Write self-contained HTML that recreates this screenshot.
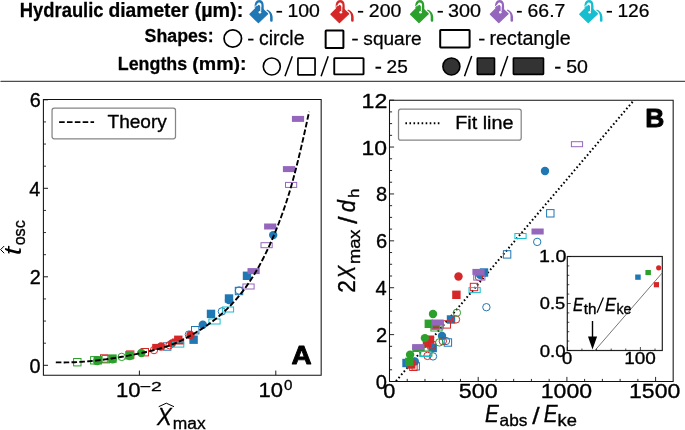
<!DOCTYPE html>
<html><head><meta charset="utf-8"><style>
html,body{margin:0;padding:0;background:#fff;}
svg{display:block;font-family:"Liberation Sans",sans-serif;}
svg{will-change:transform}
</style></head><body>
<svg width="685" height="430" viewBox="0 0 685 430">
<rect width="685" height="430" fill="#fff"/>
<line x1="1" y1="81.4" x2="685" y2="81.4" stroke="#4d4d4d" stroke-width="1.3" stroke-linecap="round"/>
<rect x="276.5" y="10.9" width="5.60" height="1.7" fill="#000"/>
<rect x="357.9" y="10.9" width="5.30" height="1.7" fill="#000"/>
<rect x="437.6" y="10.9" width="5.30" height="1.7" fill="#000"/>
<rect x="516.9" y="10.9" width="4.90" height="1.7" fill="#000"/>
<rect x="606.7" y="10.9" width="5.30" height="1.7" fill="#000"/>
<rect x="248.1" y="38.7" width="5.40" height="1.8" fill="#000"/>
<rect x="352.2" y="38.7" width="5.60" height="1.8" fill="#000"/>
<rect x="479.1" y="38.7" width="5.40" height="1.8" fill="#000"/>
<rect x="375.5" y="66.7" width="5.60" height="2.0" fill="#000"/>
<rect x="555.1" y="66.7" width="5.40" height="2.0" fill="#000"/>
<circle cx="232.8" cy="38.5" r="8.72" fill="none" stroke="#000" stroke-width="1.75"/>
<rect x="325.65" y="30.50" width="17.75" height="17.50" rx="0.6" fill="none" stroke="#000" stroke-width="2.0" stroke-linejoin="round"/>
<rect x="440.20" y="29.90" width="29.40" height="17.50" rx="0.6" fill="none" stroke="#000" stroke-width="2.0" stroke-linejoin="round"/>
<circle cx="271.8" cy="66.45" r="8.5" fill="none" stroke="#000" stroke-width="1.6"/>
<rect x="297.95" y="58.05" width="17.10" height="16.80" rx="0.6" fill="none" stroke="#000" stroke-width="1.7" stroke-linejoin="round"/>
<rect x="334.25" y="58.15" width="29.30" height="16.20" rx="0.6" fill="none" stroke="#000" stroke-width="1.9" stroke-linejoin="round"/>
<circle cx="451.4" cy="66.45" r="8.5" fill="#333" stroke="#000" stroke-width="1.6"/>
<rect x="477.30" y="58.00" width="17.20" height="16.40" rx="0.6" fill="#333" stroke="#000" stroke-width="1.6" stroke-linejoin="round"/>
<rect x="513.40" y="58.00" width="30.10" height="16.40" rx="0.6" fill="#333" stroke="#000" stroke-width="1.6" stroke-linejoin="round"/>
<line x1="285.0" y1="76.2" x2="292.3" y2="56.2" stroke="#000" stroke-width="1.5"/>
<line x1="321.1" y1="76.3" x2="328.2" y2="56.2" stroke="#000" stroke-width="1.5"/>
<line x1="464.5" y1="76.3" x2="471.7" y2="56.1" stroke="#000" stroke-width="1.5"/>
<line x1="500.6" y1="76.3" x2="507.8" y2="56.1" stroke="#000" stroke-width="1.5"/>
<defs><g id="bucket"><path d="M8.6 7.8 C8.6 3.2 10.2 1.3 12.1 1.3 C14.0 1.3 15.5 3.0 15.5 6 L15.5 10.5" fill="none" stroke="currentColor" stroke-width="2.4"/><path d="M3.0 14.3 L11.7 5.4 L20.6 13.7 L11.4 22.6 Z" fill="currentColor" stroke="currentColor" stroke-width="1.3" stroke-linejoin="round"/><path d="M6.0 8.3 L11.2 3.8" fill="none" stroke="#fff" stroke-width="0.9"/><path d="M13.75 3.6 L13.75 11.2" fill="none" stroke="#fff" stroke-width="1.0"/><circle cx="12.9" cy="12.2" r="1.3" fill="#fff"/><path d="M19.4 10.4 C21.2 11.2 22.9 13.0 23.1 16.0 L23.1 20.4 A1.3 1.3 0 0 0 25.7 20.4 L25.6 16.5 C25.3 12.8 22.7 10.4 20.0 9.5 Z" fill="currentColor" stroke="#fff" stroke-width="1.3" paint-order="stroke"/></g></defs>
<use href="#bucket" x="247" y="0" style="color:#1f77b4"/>
<use href="#bucket" x="328" y="0" style="color:#d62728"/>
<use href="#bucket" x="407.6" y="0" style="color:#2ca02c"/>
<use href="#bucket" x="487.4" y="0" style="color:#9467bd"/>
<use href="#bucket" x="576.8" y="0" style="color:#17becf"/>
<line x1="43.4" y1="365.30" x2="48.0" y2="365.30" stroke="#000" stroke-width="0.9"/>
<line x1="43.4" y1="276.80" x2="48.0" y2="276.80" stroke="#000" stroke-width="0.9"/>
<line x1="43.4" y1="188.30" x2="48.0" y2="188.30" stroke="#000" stroke-width="0.9"/>
<line x1="43.4" y1="99.80" x2="48.0" y2="99.80" stroke="#000" stroke-width="0.9"/>
<line x1="43.4" y1="343.18" x2="46.0" y2="343.18" stroke="#000" stroke-width="0.8"/>
<line x1="43.4" y1="321.05" x2="46.0" y2="321.05" stroke="#000" stroke-width="0.8"/>
<line x1="43.4" y1="298.93" x2="46.0" y2="298.93" stroke="#000" stroke-width="0.8"/>
<line x1="43.4" y1="254.68" x2="46.0" y2="254.68" stroke="#000" stroke-width="0.8"/>
<line x1="43.4" y1="232.55" x2="46.0" y2="232.55" stroke="#000" stroke-width="0.8"/>
<line x1="43.4" y1="210.43" x2="46.0" y2="210.43" stroke="#000" stroke-width="0.8"/>
<line x1="43.4" y1="166.18" x2="46.0" y2="166.18" stroke="#000" stroke-width="0.8"/>
<line x1="43.4" y1="144.05" x2="46.0" y2="144.05" stroke="#000" stroke-width="0.8"/>
<line x1="43.4" y1="121.93" x2="46.0" y2="121.93" stroke="#000" stroke-width="0.8"/>
<line x1="139.40" y1="375.17" x2="139.40" y2="370.57" stroke="#000" stroke-width="0.9"/>
<line x1="275.80" y1="375.17" x2="275.80" y2="370.57" stroke="#000" stroke-width="0.9"/>
<line x1="389.5" y1="381.50" x2="394.1" y2="381.50" stroke="#000" stroke-width="0.85"/>
<line x1="389.5" y1="369.78" x2="392.1" y2="369.78" stroke="#000" stroke-width="0.85"/>
<line x1="389.5" y1="358.06" x2="392.1" y2="358.06" stroke="#000" stroke-width="0.85"/>
<line x1="389.5" y1="346.33" x2="392.1" y2="346.33" stroke="#000" stroke-width="0.85"/>
<line x1="389.5" y1="334.61" x2="394.1" y2="334.61" stroke="#000" stroke-width="0.85"/>
<line x1="389.5" y1="322.89" x2="392.1" y2="322.89" stroke="#000" stroke-width="0.85"/>
<line x1="389.5" y1="311.17" x2="392.1" y2="311.17" stroke="#000" stroke-width="0.85"/>
<line x1="389.5" y1="299.45" x2="392.1" y2="299.45" stroke="#000" stroke-width="0.85"/>
<line x1="389.5" y1="287.72" x2="394.1" y2="287.72" stroke="#000" stroke-width="0.85"/>
<line x1="389.5" y1="276.00" x2="392.1" y2="276.00" stroke="#000" stroke-width="0.85"/>
<line x1="389.5" y1="264.28" x2="392.1" y2="264.28" stroke="#000" stroke-width="0.85"/>
<line x1="389.5" y1="252.56" x2="392.1" y2="252.56" stroke="#000" stroke-width="0.85"/>
<line x1="389.5" y1="240.84" x2="394.1" y2="240.84" stroke="#000" stroke-width="0.85"/>
<line x1="389.5" y1="229.11" x2="392.1" y2="229.11" stroke="#000" stroke-width="0.85"/>
<line x1="389.5" y1="217.39" x2="392.1" y2="217.39" stroke="#000" stroke-width="0.85"/>
<line x1="389.5" y1="205.67" x2="392.1" y2="205.67" stroke="#000" stroke-width="0.85"/>
<line x1="389.5" y1="193.95" x2="394.1" y2="193.95" stroke="#000" stroke-width="0.85"/>
<line x1="389.5" y1="182.23" x2="392.1" y2="182.23" stroke="#000" stroke-width="0.85"/>
<line x1="389.5" y1="170.50" x2="392.1" y2="170.50" stroke="#000" stroke-width="0.85"/>
<line x1="389.5" y1="158.78" x2="392.1" y2="158.78" stroke="#000" stroke-width="0.85"/>
<line x1="389.5" y1="147.06" x2="394.1" y2="147.06" stroke="#000" stroke-width="0.85"/>
<line x1="389.5" y1="135.34" x2="392.1" y2="135.34" stroke="#000" stroke-width="0.85"/>
<line x1="389.5" y1="123.62" x2="392.1" y2="123.62" stroke="#000" stroke-width="0.85"/>
<line x1="389.5" y1="111.89" x2="392.1" y2="111.89" stroke="#000" stroke-width="0.85"/>
<line x1="389.5" y1="100.17" x2="394.1" y2="100.17" stroke="#000" stroke-width="0.85"/>
<line x1="389.50" y1="381.5" x2="389.50" y2="376.9" stroke="#000" stroke-width="0.85"/>
<line x1="407.24" y1="381.5" x2="407.24" y2="378.9" stroke="#000" stroke-width="0.85"/>
<line x1="424.98" y1="381.5" x2="424.98" y2="378.9" stroke="#000" stroke-width="0.85"/>
<line x1="442.72" y1="381.5" x2="442.72" y2="378.9" stroke="#000" stroke-width="0.85"/>
<line x1="460.46" y1="381.5" x2="460.46" y2="378.9" stroke="#000" stroke-width="0.85"/>
<line x1="478.20" y1="381.5" x2="478.20" y2="376.9" stroke="#000" stroke-width="0.85"/>
<line x1="495.94" y1="381.5" x2="495.94" y2="378.9" stroke="#000" stroke-width="0.85"/>
<line x1="513.68" y1="381.5" x2="513.68" y2="378.9" stroke="#000" stroke-width="0.85"/>
<line x1="531.42" y1="381.5" x2="531.42" y2="378.9" stroke="#000" stroke-width="0.85"/>
<line x1="549.16" y1="381.5" x2="549.16" y2="378.9" stroke="#000" stroke-width="0.85"/>
<line x1="566.90" y1="381.5" x2="566.90" y2="376.9" stroke="#000" stroke-width="0.85"/>
<line x1="584.64" y1="381.5" x2="584.64" y2="378.9" stroke="#000" stroke-width="0.85"/>
<line x1="602.38" y1="381.5" x2="602.38" y2="378.9" stroke="#000" stroke-width="0.85"/>
<line x1="620.12" y1="381.5" x2="620.12" y2="378.9" stroke="#000" stroke-width="0.85"/>
<line x1="637.86" y1="381.5" x2="637.86" y2="378.9" stroke="#000" stroke-width="0.85"/>
<line x1="655.60" y1="381.5" x2="655.60" y2="376.9" stroke="#000" stroke-width="0.85"/>
<g clip-path="url(#clipA)">
<clipPath id="clipA"><rect x="43.4" y="99.5" width="277.9" height="275.5"/></clipPath>
<rect x="163.5" y="342.8" width="7.4" height="7.4" fill="none" stroke="#1f77b4" stroke-width="1"/>
<circle cx="188.9" cy="334.6" r="3.7" fill="none" stroke="#1f77b4" stroke-width="1"/>
<rect x="191.5" y="326.5" width="7.4" height="7.4" fill="none" stroke="#1f77b4" stroke-width="1"/>
<circle cx="221.9" cy="311.4" r="3.7" fill="none" stroke="#1f77b4" stroke-width="1"/>
<circle cx="239.0" cy="290.5" r="3.7" fill="none" stroke="#1f77b4" stroke-width="1"/>
<rect x="235.3" y="287.3" width="7.4" height="7.4" fill="none" stroke="#1f77b4" stroke-width="1"/>
<rect x="189.4" y="335.5" width="8.4" height="8.4" fill="#1f77b4"/>
<circle cx="202.8" cy="324.8" r="4.2" fill="#1f77b4"/>
<rect x="206.8" y="309.7" width="8.4" height="8.4" fill="#1f77b4"/>
<rect x="224.8" y="294.3" width="8.4" height="8.4" fill="#1f77b4"/>
<circle cx="229.0" cy="300.0" r="4.2" fill="#1f77b4"/>
<rect x="242.8" y="271.6" width="8.4" height="8.4" fill="#1f77b4"/>
<circle cx="273.2" cy="235.1" r="4.2" fill="#1f77b4"/>
<rect x="100.5" y="354.8" width="7.4" height="7.4" fill="none" stroke="#d62728" stroke-width="1"/>
<rect x="126.49999999999999" y="350.90000000000003" width="7.4" height="7.4" fill="none" stroke="#d62728" stroke-width="1"/>
<rect x="141.10000000000002" y="348.5" width="7.4" height="7.4" fill="none" stroke="#d62728" stroke-width="1"/>
<circle cx="154.0" cy="350.1" r="3.7" fill="none" stroke="#d62728" stroke-width="1"/>
<circle cx="169.5" cy="345.2" r="3.7" fill="none" stroke="#d62728" stroke-width="1"/>
<rect x="152.20000000000002" y="343.9" width="12.2" height="6.0" fill="#d62728"/>
<circle cx="161.0" cy="346.5" r="4.2" fill="#d62728"/>
<circle cx="172.0" cy="343.4" r="4.2" fill="#d62728"/>
<rect x="174.10000000000002" y="335.6" width="8.4" height="8.4" fill="#d62728"/>
<rect x="171.9" y="338.5" width="12.2" height="6.0" fill="#d62728"/>
<circle cx="190.5" cy="335.0" r="4.2" fill="#d62728"/>
<rect x="73.6" y="358.5" width="7.4" height="7.4" fill="none" stroke="#2ca02c" stroke-width="1"/>
<rect x="90.6" y="356.6" width="7.4" height="7.4" fill="none" stroke="#2ca02c" stroke-width="1"/>
<rect x="102.1" y="355.5" width="7.4" height="7.4" fill="none" stroke="#2ca02c" stroke-width="1"/>
<circle cx="121.7" cy="356.9" r="3.7" fill="none" stroke="#2ca02c" stroke-width="1"/>
<rect x="93.6" y="356.1" width="8.4" height="8.4" fill="#2ca02c"/>
<circle cx="97.2" cy="361.0" r="4.2" fill="#2ca02c"/>
<rect x="108.3" y="354.40000000000003" width="8.4" height="8.4" fill="#2ca02c"/>
<circle cx="112.6" cy="359.3" r="4.2" fill="#2ca02c"/>
<rect x="125.2" y="351.1" width="8.4" height="8.4" fill="#2ca02c"/>
<circle cx="129.6" cy="356.0" r="4.2" fill="#2ca02c"/>
<circle cx="141.3" cy="353.0" r="4.2" fill="#2ca02c"/>
<rect x="242.9" y="284.0" width="11.2" height="5.0" fill="none" stroke="#9467bd" stroke-width="1"/>
<rect x="261.0" y="242.7" width="11.2" height="5.0" fill="none" stroke="#9467bd" stroke-width="1"/>
<rect x="285.5" y="182.4" width="11.2" height="5.0" fill="none" stroke="#9467bd" stroke-width="1"/>
<rect x="247.5" y="268.1" width="12.2" height="6.0" fill="#9467bd"/>
<rect x="264.09999999999997" y="223.5" width="12.2" height="6.0" fill="#9467bd"/>
<rect x="282.9" y="166.1" width="12.2" height="6.0" fill="#9467bd"/>
<rect x="291.9" y="115.9" width="12.2" height="6.0" fill="#9467bd"/>
<rect x="172.6" y="342.1" width="11.2" height="5.0" fill="none" stroke="#17becf" stroke-width="1"/>
<rect x="208.9" y="319.0" width="11.2" height="5.0" fill="none" stroke="#17becf" stroke-width="1"/>
<rect x="222.4" y="307.0" width="11.2" height="5.0" fill="none" stroke="#17becf" stroke-width="1"/>
<path d="M55.80 362.33 L57.07 362.36 L58.35 362.39 L59.62 362.41 L60.89 362.42 L62.16 362.43 L63.44 362.43 L64.71 362.43 L65.98 362.42 L67.26 362.40 L68.53 362.38 L69.80 362.35 L71.07 362.32 L72.35 362.28 L73.62 362.23 L74.89 362.18 L76.17 362.12 L77.44 362.06 L78.71 361.99 L79.98 361.92 L81.26 361.84 L82.53 361.76 L83.80 361.67 L85.08 361.57 L86.35 361.47 L87.62 361.37 L88.89 361.26 L90.17 361.14 L91.44 361.02 L92.71 360.90 L93.99 360.77 L95.26 360.63 L96.53 360.49 L97.80 360.35 L99.08 360.20 L100.35 360.05 L101.62 359.89 L102.90 359.73 L104.17 359.56 L105.44 359.39 L106.71 359.21 L107.99 359.03 L109.26 358.85 L110.53 358.66 L111.81 358.47 L113.08 358.27 L114.35 358.07 L115.62 357.87 L116.90 357.66 L118.17 357.45 L119.44 357.23 L120.72 357.02 L121.99 356.79 L123.26 356.57 L124.53 356.34 L125.81 356.10 L127.08 355.87 L128.35 355.63 L129.63 355.38 L130.90 355.14 L132.17 354.89 L133.44 354.64 L134.72 354.38 L135.99 354.12 L137.26 353.86 L138.54 353.60 L139.81 353.33 L141.08 353.06 L142.35 352.79 L143.63 352.51 L144.90 352.23 L146.17 351.95 L147.45 351.67 L148.72 351.38 L149.99 351.08 L151.26 350.78 L152.54 350.48 L153.81 350.16 L155.08 349.84 L156.36 349.52 L157.63 349.18 L158.90 348.83 L160.17 348.47 L161.45 348.11 L162.72 347.73 L163.99 347.34 L165.27 346.93 L166.54 346.51 L167.81 346.08 L169.08 345.64 L170.36 345.18 L171.63 344.70 L172.90 344.20 L174.18 343.69 L175.45 343.16 L176.72 342.62 L177.99 342.05 L179.27 341.46 L180.54 340.86 L181.81 340.23 L183.09 339.58 L184.36 338.91 L185.63 338.23 L186.91 337.54 L188.18 336.84 L189.45 336.13 L190.72 335.41 L192.00 334.69 L193.27 333.96 L194.54 333.23 L195.82 332.49 L197.09 331.73 L198.36 330.97 L199.63 330.19 L200.91 329.39 L202.18 328.59 L203.45 327.76 L204.73 326.92 L206.00 326.06 L207.27 325.18 L208.54 324.29 L209.82 323.37 L211.09 322.44 L212.36 321.49 L213.64 320.51 L214.91 319.52 L216.18 318.50 L217.45 317.47 L218.73 316.41 L220.00 315.33 L221.27 314.23 L222.55 313.10 L223.82 311.95 L225.09 310.78 L226.36 309.58 L227.64 308.35 L228.91 307.09 L230.18 305.81 L231.46 304.49 L232.73 303.14 L234.00 301.76 L235.27 300.34 L236.55 298.89 L237.82 297.40 L239.09 295.88 L240.37 294.31 L241.64 292.71 L242.91 291.07 L244.18 289.38 L245.46 287.65 L246.73 285.87 L248.00 284.05 L249.28 282.18 L250.55 280.27 L251.82 278.31 L253.09 276.29 L254.37 274.23 L255.64 272.11 L256.91 269.94 L258.19 267.71 L259.46 265.43 L260.73 263.09 L262.00 260.69 L263.28 258.24 L264.55 255.72 L265.82 253.14 L267.10 250.50 L268.37 247.80 L269.64 245.03 L270.91 242.19 L272.19 239.29 L273.46 236.32 L274.73 233.28 L276.01 230.17 L277.28 226.98 L278.55 223.73 L279.82 220.40 L281.10 216.99 L282.37 213.51 L283.64 209.93 L284.92 206.24 L286.19 202.45 L287.46 198.54 L288.73 194.49 L290.01 190.30 L291.28 185.96 L292.55 181.47 L293.83 176.82 L295.10 172.03 L296.37 167.09 L297.64 162.03 L298.92 156.84 L300.19 151.53 L301.46 146.12 L302.74 140.60 L304.01 134.99 L305.28 129.29 L306.55 123.51 L307.83 117.66 L309.10 111.74" fill="none" stroke="#000" stroke-width="1.9" stroke-dasharray="5.6 2.25"/>
</g>
<clipPath id="clipB"><rect x="389.6" y="99.9" width="283.3" height="281"/></clipPath>
<g clip-path="url(#clipB)">
<line x1="394.5" y1="382.861" x2="640" y2="93.05" stroke="#000" stroke-width="2" stroke-dasharray="1.6 2.45" stroke-dashoffset="1.76"/>
<rect x="412.0" y="362.6" width="7.4" height="7.4" fill="none" stroke="#1f77b4" stroke-width="1"/>
<circle cx="433.0" cy="356.4" r="3.7" fill="none" stroke="#1f77b4" stroke-width="1"/>
<circle cx="446.0" cy="341.0" r="3.7" fill="none" stroke="#1f77b4" stroke-width="1"/>
<rect x="444.2" y="338.8" width="7.4" height="7.4" fill="none" stroke="#1f77b4" stroke-width="1"/>
<circle cx="486.4" cy="307.2" r="3.7" fill="none" stroke="#1f77b4" stroke-width="1"/>
<rect x="503.40000000000003" y="250.70000000000002" width="7.4" height="7.4" fill="none" stroke="#1f77b4" stroke-width="1"/>
<circle cx="537.2" cy="241.9" r="3.7" fill="none" stroke="#1f77b4" stroke-width="1"/>
<rect x="546.5999999999999" y="209.60000000000002" width="7.4" height="7.4" fill="none" stroke="#1f77b4" stroke-width="1"/>
<rect x="402.3" y="358.8" width="8.4" height="8.4" fill="#1f77b4"/>
<circle cx="414.8" cy="361.5" r="4.2" fill="#1f77b4"/>
<rect x="428.5" y="343.8" width="8.4" height="8.4" fill="#1f77b4"/>
<circle cx="442.0" cy="335.9" r="4.2" fill="#1f77b4"/>
<rect x="446.8" y="315.3" width="8.4" height="8.4" fill="#1f77b4"/>
<rect x="479.8" y="268.3" width="8.4" height="8.4" fill="#1f77b4"/>
<circle cx="480.0" cy="274.8" r="4.2" fill="#1f77b4"/>
<circle cx="545.0" cy="171.0" r="4.2" fill="#1f77b4"/>
<rect x="409.7" y="363.1" width="7.4" height="7.4" fill="none" stroke="#d62728" stroke-width="1"/>
<circle cx="427.5" cy="355.9" r="3.7" fill="none" stroke="#d62728" stroke-width="1"/>
<rect x="427.8" y="341.6" width="7.4" height="7.4" fill="none" stroke="#d62728" stroke-width="1"/>
<circle cx="442.8" cy="341.1" r="3.7" fill="none" stroke="#d62728" stroke-width="1"/>
<rect x="443.1" y="320.7" width="7.4" height="7.4" fill="none" stroke="#d62728" stroke-width="1"/>
<circle cx="456.0" cy="319.4" r="3.7" fill="none" stroke="#d62728" stroke-width="1"/>
<circle cx="478.9" cy="277.0" r="3.7" fill="none" stroke="#d62728" stroke-width="1"/>
<rect x="470.3" y="283.3" width="7.4" height="7.4" fill="none" stroke="#d62728" stroke-width="1"/>
<rect x="407.0" y="360.3" width="8.4" height="8.4" fill="#d62728"/>
<rect x="425.8" y="335.5" width="8.4" height="8.4" fill="#d62728"/>
<rect x="422.8" y="339.3" width="8.4" height="8.4" fill="#d62728"/>
<rect x="431.40000000000003" y="321.3" width="8.4" height="8.4" fill="#d62728"/>
<circle cx="458.5" cy="276.5" r="4.2" fill="#d62728"/>
<rect x="452.2" y="290.6" width="8.4" height="8.4" fill="#d62728"/>
<rect x="420.7" y="351.0" width="11.2" height="5.0" fill="none" stroke="#2ca02c" stroke-width="1"/>
<circle cx="439.3" cy="342.4" r="3.7" fill="none" stroke="#2ca02c" stroke-width="1"/>
<rect x="430.9" y="326.0" width="11.2" height="5.0" fill="none" stroke="#2ca02c" stroke-width="1"/>
<circle cx="456.9" cy="312.7" r="3.7" fill="none" stroke="#2ca02c" stroke-width="1"/>
<circle cx="410.1" cy="354.8" r="4.2" fill="#2ca02c"/>
<rect x="405.1" y="357.7" width="8.4" height="8.4" fill="#2ca02c"/>
<rect x="412.4" y="346.0" width="12.2" height="6.0" fill="#2ca02c"/>
<circle cx="424.9" cy="338.1" r="4.2" fill="#2ca02c"/>
<circle cx="433.0" cy="314.0" r="4.2" fill="#2ca02c"/>
<rect x="424.6" y="319.6" width="8.4" height="8.4" fill="#2ca02c"/>
<rect x="431.9" y="324.0" width="11.2" height="5.0" fill="none" stroke="#9467bd" stroke-width="1"/>
<rect x="473.7" y="275.1" width="11.2" height="5.0" fill="none" stroke="#9467bd" stroke-width="1"/>
<rect x="571.4" y="141.7" width="11.2" height="5.0" fill="none" stroke="#9467bd" stroke-width="1"/>
<rect x="412.09999999999997" y="344.1" width="12.2" height="6.0" fill="#9467bd"/>
<rect x="431.5" y="319.5" width="12.2" height="6.0" fill="#9467bd"/>
<rect x="472.4" y="268.9" width="12.2" height="6.0" fill="#9467bd"/>
<rect x="531.5" y="228.5" width="12.2" height="6.0" fill="#9467bd"/>
<rect x="419.7" y="351.5" width="11.2" height="5.0" fill="none" stroke="#17becf" stroke-width="1"/>
<rect x="469.0" y="287.6" width="11.2" height="5.0" fill="none" stroke="#17becf" stroke-width="1"/>
<rect x="514.9" y="233.5" width="11.2" height="5.0" fill="none" stroke="#17becf" stroke-width="1"/>
</g>
<rect x="52.05" y="108.2" width="123.45" height="30.6" rx="2.2" fill="#fff" fill-opacity="0.8" stroke="#858585" stroke-width="1.25"/>
<line x1="59.1" y1="122.1" x2="94.1" y2="122.1" stroke="#000" stroke-width="1.9" stroke-dasharray="5.6 2.25"/>
<rect x="398.5" y="109.0" width="122.7" height="31.2" rx="2.2" fill="#fff" fill-opacity="0.8" stroke="#858585" stroke-width="1.25"/>
<line x1="405.4" y1="123.2" x2="441" y2="123.2" stroke="#000" stroke-width="2" stroke-dasharray="1.6 2.45"/>
<rect x="567.3" y="256.5" width="95.0" height="94.0" fill="#fff" stroke="#222" stroke-width="1.2"/>
<line x1="567.3" y1="350.50" x2="570.8" y2="350.50" stroke="#000" stroke-width="0.7"/>
<line x1="567.3" y1="341.10" x2="569.3" y2="341.10" stroke="#000" stroke-width="0.7"/>
<line x1="567.3" y1="331.70" x2="569.3" y2="331.70" stroke="#000" stroke-width="0.7"/>
<line x1="567.3" y1="322.30" x2="569.3" y2="322.30" stroke="#000" stroke-width="0.7"/>
<line x1="567.3" y1="312.90" x2="569.3" y2="312.90" stroke="#000" stroke-width="0.7"/>
<line x1="567.3" y1="303.50" x2="570.8" y2="303.50" stroke="#000" stroke-width="0.7"/>
<line x1="567.3" y1="294.10" x2="569.3" y2="294.10" stroke="#000" stroke-width="0.7"/>
<line x1="567.3" y1="284.70" x2="569.3" y2="284.70" stroke="#000" stroke-width="0.7"/>
<line x1="567.3" y1="275.30" x2="569.3" y2="275.30" stroke="#000" stroke-width="0.7"/>
<line x1="567.3" y1="265.90" x2="569.3" y2="265.90" stroke="#000" stroke-width="0.7"/>
<line x1="567.3" y1="256.50" x2="570.8" y2="256.50" stroke="#000" stroke-width="0.7"/>
<line x1="567.30" y1="350.5" x2="567.30" y2="347.0" stroke="#000" stroke-width="0.7"/>
<line x1="581.92" y1="350.5" x2="581.92" y2="348.5" stroke="#000" stroke-width="0.7"/>
<line x1="596.54" y1="350.5" x2="596.54" y2="348.5" stroke="#000" stroke-width="0.7"/>
<line x1="611.16" y1="350.5" x2="611.16" y2="348.5" stroke="#000" stroke-width="0.7"/>
<line x1="625.78" y1="350.5" x2="625.78" y2="348.5" stroke="#000" stroke-width="0.7"/>
<line x1="640.40" y1="350.5" x2="640.40" y2="347.0" stroke="#000" stroke-width="0.7"/>
<line x1="655.02" y1="350.5" x2="655.02" y2="348.5" stroke="#000" stroke-width="0.7"/>
<line x1="594.9" y1="350.5" x2="662.3" y2="272.8" stroke="#666" stroke-width="0.9"/>
<line x1="597.0" y1="312.8" x2="603.4" y2="297.5" stroke="#000" stroke-width="1.25"/>
<line x1="592.5" y1="321" x2="592.5" y2="338" stroke="#000" stroke-width="1.4"/>
<path d="M588 336.5 L597.1 336.5 L592.5 349.6 Z" fill="#000"/>
<rect x="635.2" y="274.5" width="5.5" height="5.3" fill="#1f77b4"/>
<rect x="645.4" y="270.0" width="5.5" height="5.1" fill="#2ca02c"/>
<circle cx="658.7" cy="267.8" r="2.6" fill="#d62728"/>
<rect x="653.8" y="282.1" width="5.2" height="5.2" fill="#d62728"/>
<path d="M43.4 99.5 H321.17 V375.17 H43.4 Z" fill="none" stroke="#111" stroke-width="1.05" stroke-linecap="square"/>
<path d="M389.5 100.17 H673.17 V381.5 H389.5 Z" fill="none" stroke="#111" stroke-width="1.05" stroke-linecap="square"/>
<polyline points="158.7,406.7 166.3,403.2 174,406.7" fill="none" stroke="#000" stroke-width="1"/>
<polyline points="4.2,253.2 0.6,249.6 4.2,246.0" fill="none" stroke="#000" stroke-width="1"/>
<text transform="translate(19.84,16.88) scale(0.1837,0.1935)" font-size="100" font-weight="bold" stroke="#000" stroke-width="1.33" stroke-linejoin="round" fill="#000">Hydraulic</text>
<text transform="translate(108.45,16.88) scale(0.1928,0.1935)" font-size="100" font-weight="bold" stroke="#000" stroke-width="1.29" stroke-linejoin="round" fill="#000">diameter</text>
<text transform="translate(194.64,16.88) scale(0.1972,0.1935)" font-size="100" font-weight="bold" stroke="#000" stroke-width="1.28" stroke-linejoin="round" fill="#000">(µm):</text>
<text transform="translate(287.47,16.69) scale(0.1945,0.1880)" font-size="100" stroke="#000" stroke-width="1.31" stroke-linejoin="round" fill="#000">100</text>
<text transform="translate(368.85,16.69) scale(0.1946,0.1880)" font-size="100" stroke="#000" stroke-width="1.31" stroke-linejoin="round" fill="#000">200</text>
<text transform="translate(447.93,16.69) scale(0.1978,0.1880)" font-size="100" stroke="#000" stroke-width="1.30" stroke-linejoin="round" fill="#000">300</text>
<text transform="translate(527.55,16.69) scale(0.1943,0.1880)" font-size="100" stroke="#000" stroke-width="1.31" stroke-linejoin="round" fill="#000">66.7</text>
<text transform="translate(617.38,16.69) scale(0.1926,0.1880)" font-size="100" stroke="#000" stroke-width="1.31" stroke-linejoin="round" fill="#000">126</text>
<text transform="translate(144.59,42.48) scale(0.1776,0.1833)" font-size="100" font-weight="bold" stroke="#000" stroke-width="1.39" stroke-linejoin="round" fill="#000">Shapes:</text>
<text transform="translate(259.05,44.78) scale(0.1949,0.1966)" font-size="100" stroke="#000" stroke-width="1.28" stroke-linejoin="round" fill="#000">circle</text>
<text transform="translate(363.35,44.53) scale(0.1908,0.1927)" font-size="100" stroke="#000" stroke-width="1.30" stroke-linejoin="round" fill="#000">square</text>
<text transform="translate(489.55,45.42) scale(0.1971,0.1931)" font-size="100" stroke="#000" stroke-width="1.28" stroke-linejoin="round" fill="#000">rectangle</text>
<text transform="translate(117.78,70.38) scale(0.1784,0.1848)" font-size="100" font-weight="bold" stroke="#000" stroke-width="1.38" stroke-linejoin="round" fill="#000">Lengths</text>
<text transform="translate(192.25,70.38) scale(0.1956,0.1848)" font-size="100" font-weight="bold" stroke="#000" stroke-width="1.31" stroke-linejoin="round" fill="#000">(mm):</text>
<text transform="translate(386.57,72.79) scale(0.1907,0.1894)" font-size="100" stroke="#000" stroke-width="1.32" stroke-linejoin="round" fill="#000">25</text>
<text transform="translate(566.24,72.88) scale(0.1956,0.1908)" font-size="100" stroke="#000" stroke-width="1.29" stroke-linejoin="round" fill="#000">50</text>
<text transform="translate(29.53,372.73) scale(0.1979,0.1979)" font-size="100" stroke="#000" stroke-width="1.77" stroke-linejoin="round" fill="#000">0</text>
<text transform="translate(29.73,284.23) scale(0.1979,0.1979)" font-size="100" stroke="#000" stroke-width="1.77" stroke-linejoin="round" fill="#000">2</text>
<text transform="translate(29.34,195.73) scale(0.1979,0.1979)" font-size="100" stroke="#000" stroke-width="1.77" stroke-linejoin="round" fill="#000">4</text>
<text transform="translate(29.73,107.23) scale(0.1979,0.1979)" font-size="100" stroke="#000" stroke-width="1.77" stroke-linejoin="round" fill="#000">6</text>
<text transform="translate(115.90,397.03) scale(0.2217,0.1979)" font-size="100" stroke="#000" stroke-width="1.67" stroke-linejoin="round" fill="#000">10</text>
<text transform="translate(139.71,390.62) scale(0.1937,0.1321)" font-size="100" stroke="#000" stroke-width="2.15" stroke-linejoin="round" fill="#000">−2</text>
<text transform="translate(258.51,397.43) scale(0.2207,0.1993)" font-size="100" stroke="#000" stroke-width="1.67" stroke-linejoin="round" fill="#000">10</text>
<text transform="translate(284.07,389.89) scale(0.1510,0.1373)" font-size="100" stroke="#000" stroke-width="2.43" stroke-linejoin="round" fill="#000">0</text>
<text transform="translate(156.92,425.43) scale(0.2204,0.2384)" font-size="100" font-style="italic" stroke="#000" stroke-width="1.53" stroke-linejoin="round" fill="#000">X</text>
<text transform="translate(172.75,428.96) scale(0.1743,0.1645)" font-size="100" stroke="#000" stroke-width="2.07" stroke-linejoin="round" fill="#000">max</text>
<g transform="rotate(-90)"><text transform="translate(-255.13,21.36) scale(0.3074,0.2424)" font-size="100" font-style="italic" fill="#000">t</text></g>
<g transform="rotate(-90)"><text transform="translate(-245.37,25.45) scale(0.1614,0.1718)" font-size="100" stroke="#000" stroke-width="2.10" stroke-linejoin="round" fill="#000">osc</text></g>
<text transform="translate(107.49,127.95) scale(0.1908,0.1793)" font-size="100" stroke="#000" stroke-width="1.89" stroke-linejoin="round" fill="#000">Theory</text>
<text transform="translate(291.51,364.25) scale(0.2788,0.2586)" font-size="100" font-weight="bold" stroke="#000" stroke-width="3.35" stroke-linejoin="round" fill="#000">A</text>
<text transform="translate(375.79,389.02) scale(0.2007,0.2007)" font-size="100" stroke="#000" stroke-width="1.74" stroke-linejoin="round" fill="#000">0</text>
<text transform="translate(375.99,342.14) scale(0.2007,0.2007)" font-size="100" stroke="#000" stroke-width="1.74" stroke-linejoin="round" fill="#000">2</text>
<text transform="translate(375.59,295.25) scale(0.2007,0.2007)" font-size="100" stroke="#000" stroke-width="1.74" stroke-linejoin="round" fill="#000">4</text>
<text transform="translate(375.99,248.36) scale(0.2007,0.2007)" font-size="100" stroke="#000" stroke-width="1.74" stroke-linejoin="round" fill="#000">6</text>
<text transform="translate(375.99,201.47) scale(0.2007,0.2007)" font-size="100" stroke="#000" stroke-width="1.74" stroke-linejoin="round" fill="#000">8</text>
<text transform="translate(361.54,154.58) scale(0.2298,0.2007)" font-size="100" stroke="#000" stroke-width="1.63" stroke-linejoin="round" fill="#000">10</text>
<text transform="translate(361.52,107.70) scale(0.2321,0.2007)" font-size="100" stroke="#000" stroke-width="1.62" stroke-linejoin="round" fill="#000">12</text>
<text transform="translate(383.20,398.42) scale(0.2177,0.2063)" font-size="100" stroke="#000" stroke-width="1.65" stroke-linejoin="round" fill="#000">0</text>
<text transform="translate(458.74,398.42) scale(0.2336,0.2092)" font-size="100" stroke="#000" stroke-width="1.58" stroke-linejoin="round" fill="#000">500</text>
<text transform="translate(540.73,398.42) scale(0.2310,0.2092)" font-size="100" stroke="#000" stroke-width="1.59" stroke-linejoin="round" fill="#000">1000</text>
<text transform="translate(629.03,398.42) scale(0.2310,0.2092)" font-size="100" stroke="#000" stroke-width="1.59" stroke-linejoin="round" fill="#000">1500</text>
<text transform="translate(485.05,421.93) scale(0.2069,0.2355)" font-size="100" font-style="italic" stroke="#000" stroke-width="1.58" stroke-linejoin="round" fill="#000">E</text>
<text transform="translate(499.59,425.76) scale(0.1724,0.1628)" font-size="100" stroke="#000" stroke-width="2.09" stroke-linejoin="round" fill="#000">abs</text>
<text transform="translate(532.27,423.68) scale(0.2661,0.2466)" font-size="100" stroke="#000" stroke-width="1.37" stroke-linejoin="round" fill="#000">/</text>
<text transform="translate(543.65,421.93) scale(0.2069,0.2341)" font-size="100" font-style="italic" stroke="#000" stroke-width="1.59" stroke-linejoin="round" fill="#000">E</text>
<text transform="translate(557.49,425.57) scale(0.1835,0.1588)" font-size="100" stroke="#000" stroke-width="2.05" stroke-linejoin="round" fill="#000">ke</text>
<g transform="rotate(-90)"><text transform="translate(-292.85,354.93) scale(0.2250,0.2336)" font-size="100" stroke="#000" stroke-width="1.53" stroke-linejoin="round" fill="#000">2</text></g>
<g transform="rotate(-90)"><text transform="translate(-278.93,354.93) scale(0.1979,0.2370)" font-size="100" font-style="italic" stroke="#000" stroke-width="1.61" stroke-linejoin="round" fill="#000">X</text></g>
<g transform="rotate(-90)"><text transform="translate(-264.11,359.75) scale(0.1831,0.1718)" font-size="100" stroke="#000" stroke-width="1.97" stroke-linejoin="round" fill="#000">max</text></g>
<g transform="rotate(-90)"><text transform="translate(-223.82,356.88) scale(0.2625,0.2493)" font-size="100" stroke="#000" stroke-width="1.37" stroke-linejoin="round" fill="#000">/</text></g>
<g transform="rotate(-90)"><text transform="translate(-212.28,355.39) scale(0.2173,0.2304)" font-size="100" font-style="italic" stroke="#000" stroke-width="1.56" stroke-linejoin="round" fill="#000">d</text></g>
<g transform="rotate(-90)"><text transform="translate(-197.67,358.82) scale(0.1631,0.1473)" font-size="100" stroke="#000" stroke-width="2.26" stroke-linejoin="round" fill="#000">h</text></g>
<text transform="translate(455.19,129.32) scale(0.1980,0.1775)" font-size="100" stroke="#000" stroke-width="1.86" stroke-linejoin="round" fill="#000">Fit line</text>
<text transform="translate(645.30,126.75) scale(0.2639,0.2594)" font-size="100" font-weight="bold" stroke="#000" stroke-width="3.44" stroke-linejoin="round" fill="#000">B</text>
<text transform="translate(539.00,262.17) scale(0.1965,0.1599)" font-size="100" stroke="#000" stroke-width="1.96" stroke-linejoin="round" fill="#000">1.0</text>
<text transform="translate(539.74,309.06) scale(0.1828,0.1613)" font-size="100" stroke="#000" stroke-width="2.03" stroke-linejoin="round" fill="#000">0.5</text>
<text transform="translate(539.73,356.86) scale(0.1859,0.1627)" font-size="100" stroke="#000" stroke-width="2.01" stroke-linejoin="round" fill="#000">0.0</text>
<text transform="translate(562.04,363.97) scale(0.1844,0.1599)" font-size="100" stroke="#000" stroke-width="2.03" stroke-linejoin="round" fill="#000">0</text>
<text transform="translate(624.15,363.97) scale(0.1900,0.1599)" font-size="100" stroke="#000" stroke-width="2.00" stroke-linejoin="round" fill="#000">100</text>
<text transform="translate(572.92,310.72) scale(0.1531,0.1920)" font-size="100" font-style="italic" stroke="#000" stroke-width="2.03" stroke-linejoin="round" fill="#000">E</text>
<text transform="translate(583.72,314.09) scale(0.1520,0.1399)" font-size="100" stroke="#000" stroke-width="2.40" stroke-linejoin="round" fill="#000">th</text>
<text transform="translate(604.98,310.72) scale(0.1654,0.1920)" font-size="100" font-style="italic" stroke="#000" stroke-width="1.96" stroke-linejoin="round" fill="#000">E</text>
<text transform="translate(616.48,314.48) scale(0.1420,0.1453)" font-size="100" stroke="#000" stroke-width="2.44" stroke-linejoin="round" fill="#000">ke</text>
</svg>
</body></html>
